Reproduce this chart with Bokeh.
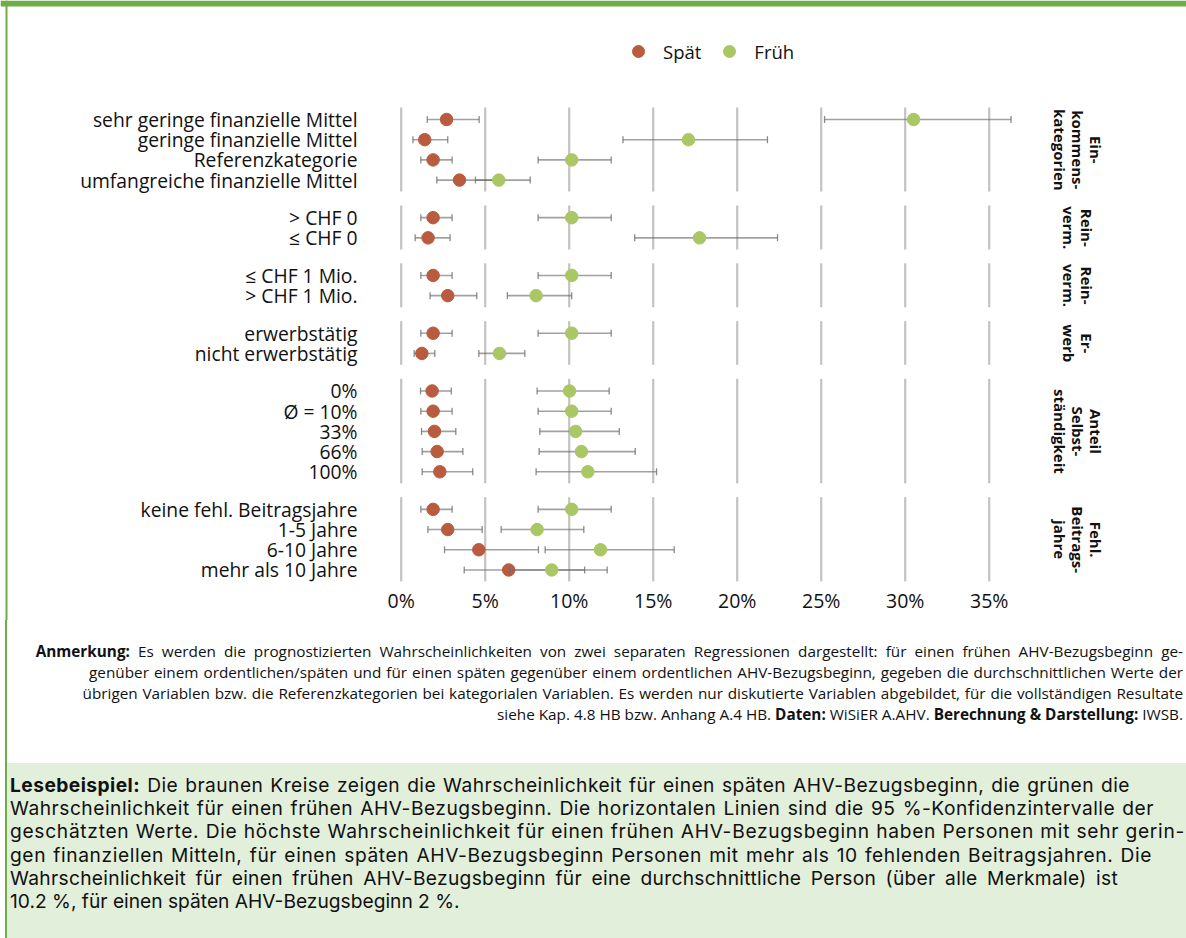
import math
from bokeh.plotting import figure
from bokeh.models import Range1d, ColumnDataSource, Legend, LegendItem, Div
from bokeh.layouts import column
from bokeh.core.properties import value
from bokeh.embed import file_html
from bokeh.resources import INLINE

# ---------------- data ----------------
group_names = ["Ein-\nkommens-\nkategorien", "Rein-\nverm.", "Rein-\nverm.", "Er-\nwerb",
               "Anteil\nSelbst-\nständigkeit", "Fehl.\nBeitrags-\njahre"]
group_sizes = [4, 2, 2, 2, 5, 4]
row_labels = ["sehr geringe finanzielle Mittel", "geringe finanzielle Mittel", "Referenzkategorie",
              "umfangreiche finanzielle Mittel",
              "> CHF 0", "≤ CHF 0",
              "≤ CHF 1 Mio.", "> CHF 1 Mio.",
              "erwerbstätig", "nicht erwerbstätig",
              "0%", "Ø = 10%", "33%", "66%", "100%",
              "keine fehl. Beitragsjahre", "1-5 Jahre", "6-10 Jahre", "mehr als 10 Jahre"]
spaet = [2.70, 1.40, 1.90, 3.47, 1.90, 1.60, 1.90, 2.77, 1.90, 1.23,
         1.84, 1.90, 1.98, 2.14, 2.30, 1.90, 2.77, 4.62, 6.40]
spaet_lo = [1.55, 0.70, 1.17, 2.12, 1.17, 0.83, 1.17, 1.72, 1.17, 0.77,
            1.15, 1.17, 1.21, 1.25, 1.25, 1.17, 1.59, 2.58, 3.75]
spaet_hi = [4.64, 2.77, 3.03, 5.67, 3.03, 2.91, 3.03, 4.50, 3.03, 2.00,
            2.98, 3.03, 3.25, 3.67, 4.26, 3.03, 4.82, 8.17, 10.92]
frueh = [30.50, 17.10, 10.15, 5.81, 10.15, 17.76, 10.15, 8.03, 10.15, 5.85,
         10.02, 10.15, 10.38, 10.73, 11.11, 10.15, 8.09, 11.86, 8.96]
frueh_lo = [25.20, 13.20, 8.15, 4.42, 8.15, 13.90, 8.15, 6.32, 8.15, 4.62,
            8.09, 8.15, 8.25, 8.21, 8.03, 8.15, 5.95, 8.57, 6.49]
frueh_hi = [36.30, 21.80, 12.50, 7.68, 12.50, 22.40, 12.50, 10.15, 12.50, 7.36,
            12.38, 12.50, 12.98, 13.93, 15.20, 12.50, 10.87, 16.25, 12.26]
x_ticks = [0, 5, 10, 15, 20, 25, 30, 35]
x_tick_labels = ["0%", "5%", "10%", "15%", "20%", "25%", "30%", "35%"]

anm_lines = [
    "<b>Anmerkung:</b> Es werden die prognostizierten Wahrscheinlichkeiten von zwei separaten Regressionen dargestellt: für einen frühen AHV-Bezugsbeginn ge-",
    "genüber einem ordentlichen/späten und für einen späten gegenüber einem ordentlichen AHV-Bezugsbeginn, gegeben die durchschnittlichen Werte der",
    "übrigen Variablen bzw. die Referenzkategorien bei kategorialen Variablen. Es werden nur diskutierte Variablen abgebildet, für die vollständigen Resultate",
    "siehe Kap. 4.8 HB bzw. Anhang A.4 HB. <b>Daten:</b> WiSiER A.AHV. <b>Berechnung &amp; Darstellung:</b> IWSB.",
]
lese_lines = [
    "<b>Lesebeispiel:</b> Die braunen Kreise zeigen die Wahrscheinlichkeit für einen späten AHV-Bezugsbeginn, die grünen die",
    "Wahrscheinlichkeit für einen frühen AHV-Bezugsbeginn. Die horizontalen Linien sind die 95 %-Konfidenzintervalle der",
    "geschätzten Werte. Die höchste Wahrscheinlichkeit für einen frühen AHV-Bezugsbeginn haben Personen mit sehr gerin-",
    "gen finanziellen Mitteln, für einen späten AHV-Bezugsbeginn Personen mit mehr als 10 fehlenden Beitragsjahren. Die",
    "Wahrscheinlichkeit für einen frühen AHV-Bezugsbeginn für eine durchschnittliche Person (über alle Merkmale) ist",
    "10.2 %, für einen späten AHV-Bezugsbeginn 2 %.",
]

# ---------------- styling / geometry ----------------
FONT = "Open Sans"
FONT_LESE = "Inter"
C_SPAET = "#B85B3E"
C_FRUEH = "#A9C762"
C_GREEN = "#70AD47"
W, H = 1186, 620
PX0, PPU = 400.7, 16.8        # pixel of 0 %, pixels per percent
ROW0, RU = 119.0, 20.2        # pixel of first row, pixels per row unit
GAP = 0.86

X0, X1 = -PX0 / PPU, (W - PX0) / PPU
Y_BOT, Y_TOP = -(H - ROW0) / RU, ROW0 / RU

ys, g_first, g_last = [], [], []
k = 0
for g, n in enumerate(group_sizes):
    first = None
    for i in range(n):
        pos = k + g * GAP
        ys.append(-pos)
        if first is None:
            first = pos
        last = pos
        k += 1
    g_first.append(first)
    g_last.append(last)

p = figure(width=W, height=H, x_range=Range1d(X0, X1), y_range=Range1d(Y_BOT, Y_TOP),
           x_axis_type=None, y_axis_type=None, toolbar_location=None, output_backend="svg",
           min_border=0, outline_line_color=None)
p.background_fill_color = "white"
p.border_fill_color = "white"

p.quad(left=[X0], right=[X1], bottom=[Y_TOP - 6 / RU], top=[Y_TOP], fill_color=C_GREEN, line_color=None)
p.quad(left=[X0 + 5 / PPU], right=[X0 + 7 / PPU], bottom=[Y_BOT], top=[Y_TOP], fill_color=C_GREEN, line_color=None)

gx, gy0, gy1 = [], [], []
for f, l in zip(g_first, g_last):
    for t in x_ticks:
        gx.append(t)
        gy0.append(-(f - 0.6))
        gy1.append(-(l + 0.57))
p.segment(x0=gx, y0=gy0, x1=gx, y1=gy1, line_color="#C3C3C3", line_width=2.2)

EB_COLOR = "#6E6E6E"

def draw_series(vals, lo, hi, color):
    src = ColumnDataSource(dict(y=ys, v=vals, lo=lo, hi=hi))
    p.segment(x0="lo", y0="y", x1="hi", y1="y", source=src, line_color=EB_COLOR,
              line_alpha=0.65, line_width=1.6)
    p.scatter(x="lo", y="y", source=src, marker="dash", angle=math.pi / 2, size=7,
              line_color=EB_COLOR, line_alpha=0.8, line_width=1.3)
    p.scatter(x="hi", y="y", source=src, marker="dash", angle=math.pi / 2, size=7,
              line_color=EB_COLOR, line_alpha=0.8, line_width=1.3)
    return p.scatter(x="v", y="y", source=src, size=12.5, fill_color=color, line_color=color)

r_spaet = draw_series(spaet, spaet_lo, spaet_hi, C_SPAET)
r_frueh = draw_series(frueh, frueh_lo, frueh_hi, C_FRUEH)

x_lab = (357 - PX0) / PPU
p.text(x=[x_lab] * len(row_labels), y=ys, text=row_labels, text_align="right",
       text_baseline="middle", text_font=value(FONT), text_font_size="19.3px", text_color="#111111")

y_tick = -(g_last[-1] + 1.5)
p.text(x=x_ticks, y=[y_tick] * len(x_ticks), text=x_tick_labels, text_align="center",
       text_baseline="middle", text_font=value(FONT), text_font_size="19.5px", text_color="#111111")

x_grp = (1077 - PX0) / PPU
g_center = [-(f + l) / 2 for f, l in zip(g_first, g_last)]
p.text(x=[x_grp] * len(group_names), y=g_center, text=group_names, angle=-math.pi / 2,
       text_align="center", text_baseline="middle", text_font=value(FONT),
       text_font_size="15px", text_font_style="bold", text_line_height=0.9, text_color="#111111")

legend = Legend(items=[LegendItem(label="Spät", renderers=[r_spaet]),
                       LegendItem(label="Früh", renderers=[r_frueh])],
                orientation="horizontal", location=(623, 554), glyph_width=30, glyph_height=30,
                label_standoff=10, spacing=13, padding=0, margin=0,
                border_line_alpha=0, background_fill_alpha=0,
                label_text_font=FONT, label_text_font_size="18.5px", label_text_color="#111111")
p.add_layout(legend)

# ---- notes below the chart ----
anm_ws = [4.1, 1.0, 0.8, 0.0]          # word spacing per line (right aligned lines)
anm_parts = []
for txt, ws in zip(anm_lines, anm_ws):
    anm_parts.append('<div style="height:21px;text-align:right;word-spacing:%.1fpx;white-space:nowrap;">%s</div>'
                     % (ws, txt))
anm_html = ('<div style="box-sizing:border-box;width:1181px;height:143px;margin-left:5px;'
            'border-left:2px solid %s;padding-top:21px;padding-right:3px;font-family:\'%s\';'
            'font-size:15.3px;line-height:21px;color:#111;">%s</div>') % (C_GREEN, FONT, "".join(anm_parts))

lese_width = [1120, 1144, 1175, 1142, 1108, None]
lese_ls = [0.45, 0.5, 0.7, 0.6, 0.3, 0.0]
lese_parts = []
for txt, wdt, ls in zip(lese_lines, lese_width, lese_ls):
    if wdt:
        lese_parts.append('<div style="height:23.4px;width:%dpx;letter-spacing:%.2fpx;text-align:justify;'
                          'text-align-last:justify;white-space:nowrap;">%s</div>' % (wdt, ls, txt))
    else:
        lese_parts.append('<div style="height:23.4px;white-space:nowrap;">%s</div>' % txt)
lese_html = ('<div style="box-sizing:border-box;width:1181px;height:175px;margin-left:5px;'
             'border-left:2px solid %s;background:#E2EFDA;padding-top:10.5px;padding-left:3px;'
             'font-family:\'%s\';font-size:19.2px;line-height:23.4px;color:#111;overflow:visible;">%s</div>') % (
    C_GREEN, FONT_LESE, "".join(lese_parts))

div_anm = Div(text=anm_html, width=W, height=143, margin=0)
div_lese = Div(text=lese_html, width=W, height=175, margin=0)

layout = column(p, div_anm, div_lese, spacing=0, margin=0)
open("out.html", "w").write(file_html(layout, INLINE))
